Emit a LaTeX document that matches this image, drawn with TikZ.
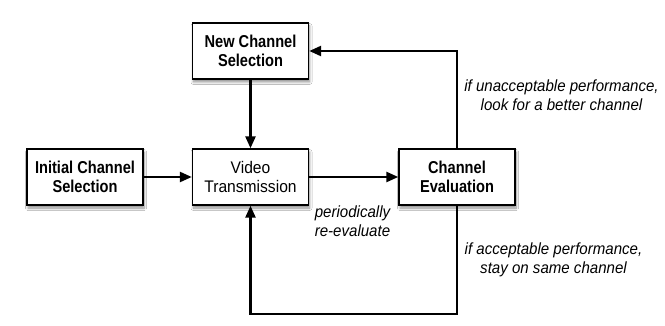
\documentclass[tikz,border=0pt]{standalone}
\usepackage{fontspec}
\setmainfont{Liberation Sans}
% narrow cuts of the sans face, for the boxes and the notes
\newfontfamily\boldnarrow[FakeStretch=0.85]{Liberation Sans}
\newfontfamily\plainnarrow[FakeStretch=0.93]{Liberation Sans}
\usetikzlibrary{arrows.meta,shadows.blur}

\tikzset{
  box/.style={draw=black, line width=1.4pt, fill=white,
    minimum width=116pt, minimum height=56pt, inner sep=0pt, align=center,
    font=\plainnarrow\fontsize{16.8}{18.5}\selectfont,
    blur shadow={shadow xshift=1pt, shadow yshift=-3pt,
      shadow blur radius=2.5pt, shadow blur steps=8, shadow opacity=45}},
  boldbox/.style={box, font=\boldnarrow\bfseries\fontsize{17.2}{18.5}\selectfont},
  flow/.style={line width=2.5pt, -{Triangle[length=12pt,width=10pt]}},
  note/.style={align=center, inner sep=0pt,
    font=\plainnarrow\itshape\fontsize{16.2}{19}\selectfont}
}

\begin{document}
\begin{tikzpicture}[x=1pt, y=-1pt]
  \useasboundingbox[fill=white] (0,0) rectangle (665,326);

  % the four stages
  \node[boldbox] (new)  at (250.5,51)  {New Channel\\Selection};
  \node[boldbox] (init) at (85,177)    {Initial Channel\\Selection};
  \node[box]     (vid)  at (250.5,177) {Video\\Transmission};
  \node[boldbox] (eval) at (457,177)   {Channel\\Evaluation};

  % corners of the two feedback loops
  \coordinate (upcorner)  at (eval.north |- new.east);
  \coordinate (lowright)  at (eval.south |- 0,314);
  \coordinate (lowleft)   at (vid.south |- 0,314);

  % connectors
  \draw[flow] (init.east) -- (vid.west);
  \draw[flow] (vid.east) -- (eval.west);
  \draw[flow] (new.south) -- (vid.north);
  \draw[flow] (eval.north) -- (upcorner) -- (new.east);
  \draw[flow] (eval.south) -- (lowright) -- (lowleft) -- (vid.south);

  % annotations
  \node[note] (nbad)  at (561.5,95.5) {if unacceptable performance,\\look for a better channel};
  \node[note] (ngood) at (553.5,260)  {if acceptable performance,\\stay on same channel};
  \node[note] (nper)  at (352.5,221)  {periodically\\re-evaluate};
\end{tikzpicture}
\end{document}
